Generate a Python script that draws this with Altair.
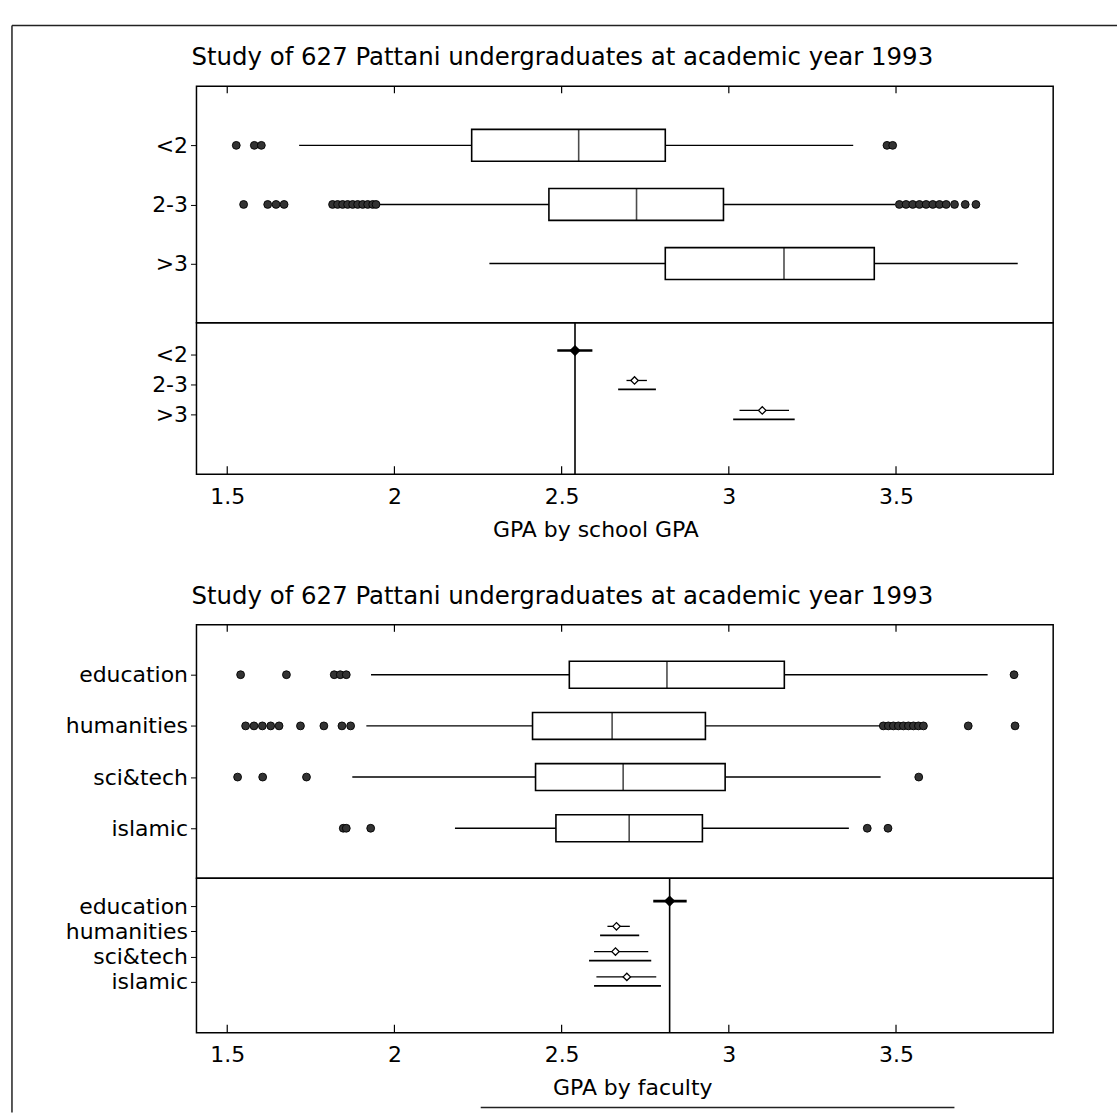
import altair as alt
import pandas as pd

FONT = "DejaVu Sans"
TITLE = "Study of 627 Pattani undergraduates at academic year 1993"

x_ticks = [1.5, 2.0, 2.5, 3.0, 3.5]
x_domain = [1.408, 3.97]

# ---------------- panel 1: GPA by school GPA ----------------
school_groups = ["<2", "2-3", ">3"]
school_lo = [1.715, 1.945, 2.284]
school_q1 = [2.231, 2.462, 2.810]
school_med = [2.551, 2.724, 3.165]
school_q3 = [2.810, 2.984, 3.435]
school_hi = [3.372, 3.497, 3.864]
school_out_lt2 = [1.527, 1.581, 1.602, 3.473, 3.490]
school_out_2_3 = [1.549, 1.621, 1.646, 1.670,
                  1.815, 1.830, 1.845, 1.860, 1.875, 1.890, 1.905, 1.920, 1.935, 1.945,
                  3.510, 3.530, 3.550, 3.570, 3.590, 3.610, 3.630, 3.650, 3.675,
                  3.707, 3.739]
school_out_gt3 = []

school_mean = [2.540, 2.718, 3.100]
school_se_lo = [2.487, 2.694, 3.032]
school_se_hi = [2.592, 2.755, 3.180]
school_ci_lo = [None, 2.669, 3.013]
school_ci_hi = [None, 2.782, 3.197]

# ---------------- panel 2: GPA by faculty ----------------
fac_groups = ["education", "humanities", "sci&tech", "islamic"]
fac_lo = [1.930, 1.916, 1.874, 2.181]
fac_q1 = [2.523, 2.413, 2.422, 2.483]
fac_med = [2.815, 2.651, 2.684, 2.702]
fac_q3 = [3.166, 2.930, 2.989, 2.921]
fac_hi = [3.774, 3.454, 3.454, 3.359]
fac_out_edu = [1.540, 1.677, 1.820, 1.838, 1.856, 3.853]
fac_out_hum = [1.555, 1.580, 1.605, 1.630, 1.655, 1.719, 1.789, 1.843, 1.869,
               3.462, 3.477, 3.492, 3.507, 3.522, 3.537, 3.552, 3.567, 3.582,
               3.716, 3.856]
fac_out_sci = [1.531, 1.606, 1.737, 3.568]
fac_out_isl = [1.847, 1.856, 1.929, 3.414, 3.476]

fac_mean = [2.823, 2.664, 2.661, 2.695]
fac_se_lo = [2.774, 2.637, 2.597, 2.604]
fac_se_hi = [2.874, 2.704, 2.759, 2.783]
fac_ci_lo = [None, 2.615, 2.582, 2.597]
fac_ci_hi = [None, 2.732, 2.768, 2.797]

W = 859
xs = alt.Scale(domain=x_domain, nice=False, zero=False)


def yaxis():
    return alt.Axis(title=None, labelFontSize=22, labelFont=FONT, labelColor="black",
                    tickSize=6, tickColor="black", domain=False, grid=False,
                    labelPadding=3, minExtent=140, maxExtent=140)


def box_section(groups, lo, q1, med, q3, hi, outliers, height, box_size, pad):
    df = pd.DataFrame(dict(group=groups, lo=lo, q1=q1, med=med, q3=q3, hi=hi))
    rows = [(g, v) for g, vals in zip(groups, outliers) for v in vals]
    odf = pd.DataFrame(rows, columns=["group", "value"])
    ysc = alt.Scale(type="point", domain=groups, padding=pad)
    y = alt.Y("group:N", scale=ysc, axis=yaxis(), sort=groups)
    base = alt.Chart(df)
    wl = base.mark_rule(color="black", strokeWidth=1.4).encode(
        x=alt.X("lo:Q", scale=xs, axis=None), x2="q1:Q", y=y)
    wh = base.mark_rule(color="black", strokeWidth=1.4).encode(
        x=alt.X("q3:Q", scale=xs, axis=None), x2="hi:Q", y=y)
    bx = base.mark_bar(size=box_size, fill="white", stroke="black", strokeWidth=1.6).encode(
        x=alt.X("q1:Q", scale=xs, axis=None), x2="q3:Q", y=y)
    md = base.mark_tick(size=box_size, thickness=1.6, color="black").encode(
        x=alt.X("med:Q", scale=xs, axis=None), y=y)
    pts = alt.Chart(odf).mark_point(shape="circle", filled=True, fill="#333333",
                                    stroke="black", strokeWidth=0.9, size=62, opacity=1).encode(
        x=alt.X("value:Q", scale=xs, axis=None), y=y)
    tdf = pd.DataFrame({"t": x_ticks})
    tk = alt.Chart(tdf).mark_rule(color="black", strokeWidth=1.2).encode(
        x=alt.X("t:Q", scale=xs, axis=None), y=alt.value(0), y2=alt.value(7))
    return alt.layer(wl, wh, bx, md, pts, tk).properties(
        width=W, height=height,
        title=alt.TitleParams(TITLE, anchor="start", frame="group", fontSize=24.5, font=FONT,
                              fontWeight="normal", color="black", offset=16,
                              baseline="alphabetic", dx=-5, dy=20))


def mean_section(groups, mean, se_lo, se_hi, ci_lo, ci_hi, height, yrange,
                 off_up, off_dn, xtitle, title_x):
    df = pd.DataFrame(dict(group=groups, mean=mean, se_lo=se_lo, se_hi=se_hi,
                           ci_lo=ci_lo, ci_hi=ci_hi))
    df["ref"] = [i == 0 for i in range(len(groups))]
    ysc = alt.Scale(type="point", domain=groups, range=yrange, padding=0)
    y = alt.Y("group:N", scale=ysc, axis=yaxis(), sort=groups)
    xax = alt.Axis(values=x_ticks, format=".1~f", labelFontSize=22, labelFont=FONT,
                   labelColor="black", ticks=False, tickSize=0, domain=False, grid=False,
                   labelPadding=12, title=xtitle, titleFontSize=22, titleFont=FONT,
                   titleFontWeight="normal", titleColor="black", titleY=62,
                   titleX=title_x, titleAlign="center", titleBaseline="alphabetic")
    base = alt.Chart(df)
    ref = base.transform_filter("datum.ref").mark_rule(color="black", strokeWidth=1.6).encode(
        x=alt.X("mean:Q", scale=xs, axis=xax))
    se_ref = base.transform_filter("datum.ref").mark_rule(
        color="black", strokeWidth=2.6, yOffset=off_up).encode(
        x=alt.X("se_lo:Q", scale=xs, axis=xax), x2="se_hi:Q", y=y)
    se = base.transform_filter("!datum.ref").mark_rule(
        color="black", strokeWidth=1.3, yOffset=off_up).encode(
        x=alt.X("se_lo:Q", scale=xs, axis=xax), x2="se_hi:Q", y=y)
    ci = base.transform_filter("!datum.ref").mark_rule(
        color="black", strokeWidth=1.8, yOffset=off_dn).encode(
        x=alt.X("ci_lo:Q", scale=xs, axis=xax), x2="ci_hi:Q", y=y)
    dm_ref = base.transform_filter("datum.ref").mark_point(
        shape="diamond", filled=True, fill="black", stroke="black", size=70,
        opacity=1, yOffset=off_up).encode(x=alt.X("mean:Q", scale=xs, axis=xax), y=y)
    dm = base.transform_filter("!datum.ref").mark_point(
        shape="diamond", filled=True, fill="white", stroke="black", strokeWidth=1.3,
        size=55, opacity=1, yOffset=off_up).encode(x=alt.X("mean:Q", scale=xs, axis=xax), y=y)
    tdf = pd.DataFrame({"t": x_ticks})
    tk = alt.Chart(tdf).mark_rule(color="black", strokeWidth=1.2).encode(
        x=alt.X("t:Q", scale=xs, axis=xax), y=alt.value(height - 8), y2=alt.value(height))
    return alt.layer(ref, se_ref, se, ci, dm, dm_ref, tk).properties(width=W, height=height)


# spacer between the two panels; it also carries the scanned page frame lines
one = alt.Chart(pd.DataFrame({"a": [0]}))
frame_left = one.mark_rule(color="#222", strokeWidth=1.5).encode(
    x=alt.value(-185), y=alt.value(-450), y2=alt.value(640))
frame_top = one.mark_rule(color="#222", strokeWidth=1.5).encode(
    x=alt.value(-185), x2=alt.value(923), y=alt.value(-450))
frame_bottom = one.mark_rule(color="#222", strokeWidth=1.5).encode(
    x=alt.value(285), x2=alt.value(760), y=alt.value(635))
spacer = alt.layer(frame_left, frame_top, frame_bottom).properties(
    width=W, height=151, view=alt.ViewBackground(stroke="transparent"))

chart = alt.vconcat(
    box_section(school_groups, school_lo, school_q1, school_med, school_q3, school_hi,
                [school_out_lt2, school_out_2_3, school_out_gt3], 237, 32, 1.0),
    mean_section(school_groups, school_mean, school_se_lo, school_se_hi, school_ci_lo,
                 school_ci_hi, 152, [32, 92], -4, 5, "GPA by school GPA", 400),
    spacer,
    box_section(fac_groups, fac_lo, fac_q1, fac_med, fac_q3, fac_hi,
                [fac_out_edu, fac_out_hum, fac_out_sci, fac_out_isl], 254, 27, 0.975),
    mean_section(fac_groups, fac_mean, fac_se_lo, fac_se_hi, fac_ci_lo, fac_ci_hi,
                 155, [28, 104], -5, 4, "GPA by faculty", 437),
    spacing=0, bounds="flush",
).properties(
    padding={"left": 10, "top": 22, "right": 0, "bottom": 0},
    background="white",
).configure_view(stroke="black", strokeWidth=1.5)

chart.save("out.html", embed_options={"renderer": "svg", "actions": False})
